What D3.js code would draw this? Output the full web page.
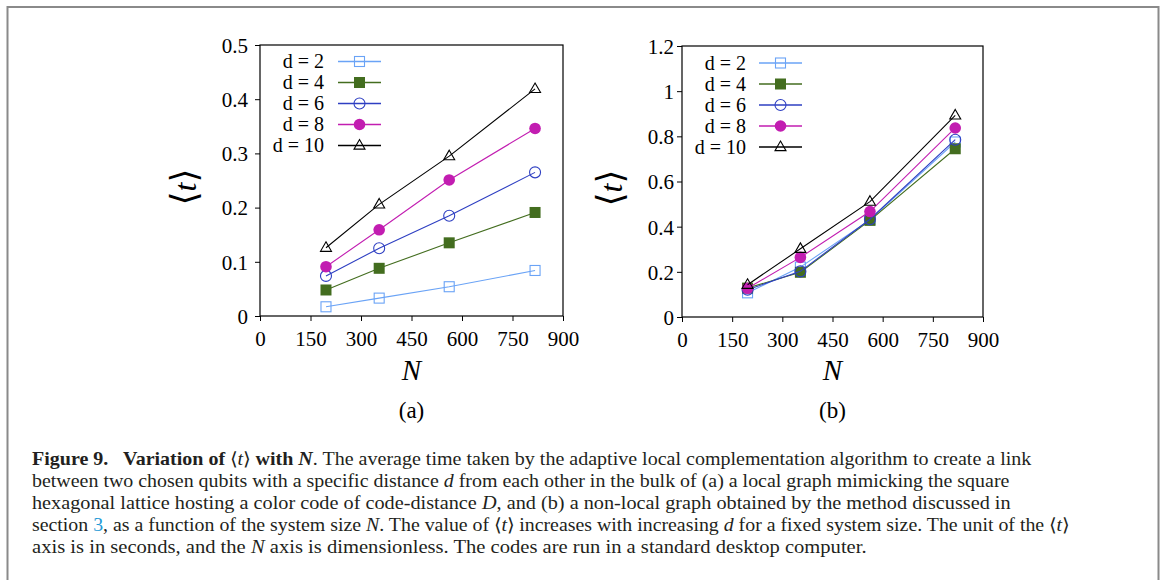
<!DOCTYPE html>
<html>
<head>
<meta charset="utf-8">
<script src="https://cdn.jsdelivr.net/npm/d3@7/dist/d3.min.js"></script>
<style>
  html, body { margin: 0; padding: 0; background: #fff; }
  svg { display: block; }
  svg text { font-family: "Liberation Serif", "Times New Roman", serif; }
</style>
</head>
<body>
<svg id="chart" width="1163" height="580"></svg>
<script>
// ---------- data ----------
const systemSizeN = [196, 354, 562, 817];
const seriesLabels = ["d = 2", "d = 4", "d = 6", "d = 8", "d = 10"];
const seriesColors = ["#6aa3f6", "#436d1f", "#2e3fc2", "#c21db1", "#000000"];
const seriesMarkers = ["squareOpen", "squareFilled", "circleOpen", "circleFilled", "triangleOpen"];

// (a) local graph
const localD2  = [0.017, 0.033, 0.054, 0.084];
const localD4  = [0.048, 0.088, 0.135, 0.191];
const localD6  = [0.074, 0.125, 0.185, 0.265];
const localD8  = [0.091, 0.159, 0.251, 0.346];
const localD10 = [0.126, 0.206, 0.295, 0.419];

// (b) non-local graph
const nonlocalD2  = [0.107, 0.221, 0.430, 0.775];
const nonlocalD4  = [0.128, 0.198, 0.428, 0.745];
const nonlocalD6  = [0.121, 0.202, 0.433, 0.785];
const nonlocalD8  = [0.127, 0.264, 0.467, 0.837];
const nonlocalD10 = [0.143, 0.302, 0.511, 0.893];

const xTicks = [0, 150, 300, 450, 600, 750, 900];
const yTicksA = [0, 0.1, 0.2, 0.3, 0.4, 0.5];
const yTicksB = [0, 0.2, 0.4, 0.6, 0.8, 1, 1.2];
const panelLabels = ["(a)", "(b)"];

// ---------- drawing ----------
const svg = d3.select("#chart");
const serif = '"Liberation Serif", "Times New Roman", serif';

// outer frame (left, top, right)
svg.append("path")
  .attr("d", "M7.5,580 L7.5,7 L1158.5,7 L1158.5,580")
  .attr("fill", "none").attr("stroke", "#8a8a8a").attr("stroke-width", 2);

function marker(g, type, color, x, y) {
  if (type === "squareOpen") {
    g.append("rect").attr("x", x - 5).attr("y", y - 5).attr("width", 10).attr("height", 10)
      .attr("fill", "none").attr("stroke", color).attr("stroke-width", 1.1);
  } else if (type === "squareFilled") {
    g.append("rect").attr("x", x - 5.5).attr("y", y - 5.5).attr("width", 11).attr("height", 11)
      .attr("fill", color);
  } else if (type === "circleOpen") {
    g.append("circle").attr("cx", x).attr("cy", y).attr("r", 5.5)
      .attr("fill", "none").attr("stroke", color).attr("stroke-width", 1.1);
  } else if (type === "circleFilled") {
    g.append("circle").attr("cx", x).attr("cy", y).attr("r", 5.8).attr("fill", color);
  } else {
    const s = 11;
    const h = s * Math.sqrt(3) / 2;
    g.append("path")
      .attr("d", `M${x},${y - h * 0.62} L${x + s / 2},${y + h * 0.38} L${x - s / 2},${y + h * 0.38} Z`)
      .attr("fill", "none").attr("stroke", color).attr("stroke-width", 1.1);
  }
}

function panel(opts) {
  const { left, right, top, bottom, yMax, yTicks, series, legendTextX, legendLineX0, legendLineX1,
          legendY0, yLabelX, yLabelY, yTickLabelX, label } = opts;
  const g = svg.append("g");
  const x = d3.scaleLinear().domain([0, 900]).range([left, right]);
  const y = d3.scaleLinear().domain([0, yMax]).range([bottom, top]);

  // frame
  g.append("rect").attr("x", left).attr("y", top).attr("width", right - left).attr("height", bottom - top)
    .attr("fill", "none").attr("stroke", "#000").attr("stroke-width", 1.2);

  // x axis ticks + labels
  const xAxis = d3.axisBottom(x).tickValues(xTicks).tickSize(5).tickFormat(d3.format("d"));
  const xg = g.append("g").attr("transform", `translate(0,${bottom})`).call(xAxis);
  xg.attr("font-family", null).attr("font-size", null);
  xg.select(".domain").remove();
  xg.selectAll(".tick line").attr("stroke", "#000");
  xg.selectAll(".tick text").style("font-family", serif).style("font-size", "21px").attr("fill", "#000")
    .attr("y", 15).attr("dy", "0.71em");

  // y axis ticks + labels
  const yAxis = d3.axisLeft(y).tickValues(yTicks).tickSize(5).tickFormat(d => String(+d.toFixed(2)));
  const yg = g.append("g").attr("transform", `translate(${left},0)`).call(yAxis);
  yg.attr("font-family", null).attr("font-size", null);
  yg.select(".domain").remove();
  yg.selectAll(".tick line").attr("stroke", "#000");
  yg.selectAll(".tick text").style("font-family", serif).style("font-size", "21px").attr("fill", "#000")
    .attr("x", yTickLabelX - left).attr("dy", "0.35em");

  // series
  const line = d3.line().x((d, i) => x(systemSizeN[i])).y(d => y(d));
  series.forEach((vals, k) => {
    g.append("path").datum(vals).attr("d", line)
      .attr("fill", "none").attr("stroke", seriesColors[k]).attr("stroke-width", 1.1);
    vals.forEach((v, i) => marker(g, seriesMarkers[k], seriesColors[k], x(systemSizeN[i]), y(v)));
  });

  // legend
  seriesLabels.forEach((lab, k) => {
    const ly = legendY0 + k * 21;
    g.append("text").attr("x", legendTextX).attr("y", ly).attr("dy", "0.33em")
      .attr("text-anchor", "end").style("font-family", serif).style("font-size", "20px").text(lab);
    g.append("line").attr("x1", legendLineX0).attr("x2", legendLineX1).attr("y1", ly).attr("y2", ly)
      .attr("stroke", seriesColors[k]).attr("stroke-width", 1.3);
    marker(g, seriesMarkers[k], seriesColors[k], (legendLineX0 + legendLineX1) / 2, ly);
  });

  // y label
  const yl = g.append("text").attr("transform", `translate(${yLabelX},${yLabelY}) rotate(-90)`)
    .attr("text-anchor", "middle").attr("dy", "0.33em")
    .style("font-family", serif).style("font-size", "32px");
  yl.append("tspan").style("font-family", '"DejaVu Serif", serif').style("font-size", "36px").text("\u27E8");
  yl.append("tspan").style("font-style", "italic").text("t");
  yl.append("tspan").style("font-family", '"DejaVu Serif", serif').style("font-size", "36px").text("\u27E9");

  // x label
  const cx = (left + right) / 2;
  g.append("text").attr("x", cx).attr("y", 380).attr("text-anchor", "middle")
    .style("font-family", serif).style("font-style", "italic").style("font-size", "29px").text("N");
  g.append("text").attr("x", cx).attr("y", 418).attr("text-anchor", "middle")
    .style("font-family", serif).style("font-size", "23px").text(label);
}

panel({ left: 260, right: 563, top: 45, bottom: 316, yMax: 0.5, yTicks: yTicksA,
  series: [localD2, localD4, localD6, localD8, localD10],
  legendTextX: 324, legendLineX0: 338, legendLineX1: 381, legendY0: 61.5,
  yLabelX: 185, yLabelY: 187, yTickLabelX: 248, label: panelLabels[0] });

panel({ left: 682, right: 983, top: 46, bottom: 317, yMax: 1.2, yTicks: yTicksB,
  series: [nonlocalD2, nonlocalD4, nonlocalD6, nonlocalD8, nonlocalD10],
  legendTextX: 746, legendLineX0: 759, legendLineX1: 802, legendY0: 63,
  yLabelX: 611, yLabelY: 188, yTickLabelX: 674, label: panelLabels[1] });

// ---------- caption ----------
const captionLines = [
  { end: 1033, parts: [
    { t: "Figure 9.\u2002 Variation of ", b: true }, { t: "\u27E8" }, { t: "t", i: true }, { t: "\u27E9" },
    { t: " with ", b: true }, { t: "N", b: true, i: true }, { t: ". The average time taken by the adaptive local complementation algorithm to create a link" } ] },
  { end: 1010, parts: [
    { t: "between two chosen qubits with a specific distance " }, { t: "d", i: true },
    { t: " from each other in the bulk of (a) a local graph mimicking the square" } ] },
  { end: 1011, parts: [
    { t: "hexagonal lattice hosting a color code of code-distance " }, { t: "D", i: true },
    { t: ", and (b) a non-local graph obtained by the method discussed in" } ] },
  { end: 1072, parts: [
    { t: "section " }, { t: "3", c: "#1f9ad6" }, { t: ", as a function of the system size " }, { t: "N", i: true },
    { t: ". The value of \u27E8" }, { t: "t", i: true }, { t: "\u27E9 increases with increasing " }, { t: "d", i: true },
    { t: " for a fixed system size. The unit of the \u27E8" }, { t: "t", i: true }, { t: "\u27E9" } ] },
  { end: 867, parts: [
    { t: "axis is in seconds, and the " }, { t: "N", i: true },
    { t: " axis is dimensionless. The codes are run in a standard desktop computer." } ] }
];
const capX = 32;
captionLines.forEach((ln, k) => {
  const by = 465 + k * 22;
  const t = svg.append("text").attr("x", capX).attr("y", by)
    .style("font-family", serif).style("font-size", "18px").attr("fill", "#231f20");
  ln.parts.forEach(p => {
    const s = t.append("tspan").text(p.t);
    if (p.b) s.style("font-weight", "bold");
    if (p.i) s.style("font-style", "italic");
    if (p.c) s.attr("fill", p.c);
  });
  const w = t.node().getComputedTextLength();
  const sx = (ln.end - capX) / w;
  t.attr("transform", `translate(${capX},0) scale(${sx},1) translate(${-capX},0)`);
});
</script>
</body>
</html>
